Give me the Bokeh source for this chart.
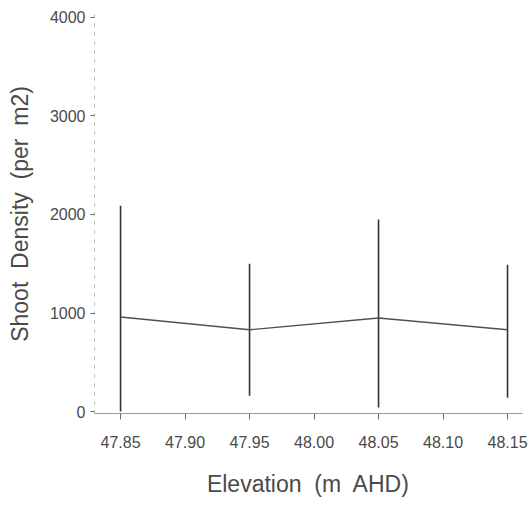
from bokeh.plotting import figure
from bokeh.models import FixedTicker, Range1d, ColumnDataSource, NumeralTickFormatter
from bokeh.embed import file_html
from bokeh.resources import INLINE

elevation = [47.85, 47.95, 48.05, 48.15]
density_mean = [960, 830, 950, 830]
density_upper = [2090, 1500, 1950, 1490]
density_lower = [0, 160, 40, 140]
x_ticks = [47.85, 47.90, 47.95, 48.00, 48.05, 48.10, 48.15]
y_ticks = [0, 1000, 2000, 3000, 4000]

p = figure(width=530, height=504, output_backend="svg", toolbar_location=None,
           x_range=Range1d(47.8298, 48.1616), y_range=Range1d(-20, 4030),
           min_border_left=94, min_border_right=8, min_border_top=14, min_border_bottom=91)
p.outline_line_color = None
p.grid.visible = False
p.background_fill_color = "white"

src = ColumnDataSource(dict(x=elevation, m=density_mean, up=density_upper, lo=density_lower))
p.segment(x0="x", y0="lo", x1="x", y1="up", source=src, line_color="#333333", line_width=1.6)
p.line(x="x", y="m", source=src, line_color="#505050", line_width=1.4)

ink = "#4a4a4a"
p.xaxis.ticker = FixedTicker(ticks=x_ticks)
p.xaxis.formatter = NumeralTickFormatter(format="0.00")
p.yaxis.ticker = FixedTicker(ticks=y_ticks)

for ax in (p.xaxis, p.yaxis):
    ax.major_label_text_font = "Liberation Sans"
    ax.major_label_text_font_size = "16px"
    ax.major_label_text_color = ink
    ax.axis_label_text_font = "Liberation Sans"
    ax.axis_label_text_font_size = "23px"
    ax.axis_label_text_font_style = "normal"
    ax.axis_label_text_color = ink
    ax.minor_tick_line_color = None
    ax.major_tick_in = 0

p.xaxis.axis_line_color = "#9a9a9a"
p.xaxis.major_tick_line_color = "#6a6a6a"
p.xaxis.major_tick_out = 6
p.xaxis.major_label_standoff = 16
p.xaxis.axis_label = "Elevation\u00a0 (m\u00a0 AHD)"
p.xaxis.axis_label_standoff = 20

p.yaxis.axis_line_color = "#b0b0b0"
p.yaxis.axis_line_dash = "3 6"
p.yaxis.major_tick_line_color = "#6a6a6a"
p.yaxis.major_tick_out = 4
p.yaxis.major_label_standoff = 5
p.yaxis.axis_label = "Shoot\u00a0 Density\u00a0 (per\u00a0 m2)"
p.yaxis.axis_label_standoff = 14

open("out.html", "w").write(file_html(p, INLINE))
